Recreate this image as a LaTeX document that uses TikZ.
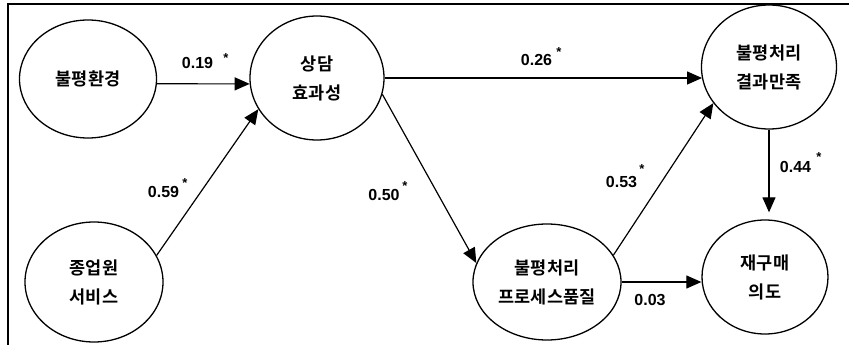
\documentclass[tikz,border=0pt]{standalone}
\usepackage{fontspec}
\usetikzlibrary{arrows.meta,shapes.geometric}
\newfontfamily\krfont{Noto Sans CJK KR}[BoldFont={Noto Sans CJK KR Bold}]
\newfontfamily\numfont{Liberation Sans}
\tikzset{
  ell/.style={draw, ellipse, line width=1.3pt, inner sep=0pt, align=center,
    font=\krfont\bfseries\fontsize{17.5}{29}\selectfont},
  arr/.style={-{Triangle[length=15pt,width=13pt]}, line width=1.2pt},
  lab/.style={inner sep=0pt, font=\numfont\bfseries\fontsize{16}{18}\selectfont},
  starlab/.style={inner sep=0pt, anchor=north, font=\numfont\bfseries\fontsize{13}{14}\selectfont},
}
\begin{document}
\begin{tikzpicture}[x=1pt,y=-1pt]
\useasboundingbox (0,0) rectangle (849,345);
\fill[white] (0,0) rectangle (849,345);
\draw[line width=1.2pt] (8,345) -- (8,4) -- (849,4);
% nodes
\node[ell, minimum width=137pt, minimum height=118pt] (hwan) at (88,79) {불평환경};
\node[ell, minimum width=134pt, minimum height=124pt] (sang) at (317,78) {상담\\효과성};
\node[ell, minimum width=138pt, minimum height=120pt] (jong) at (94,282) {종업원\\서비스};
\node[ell, minimum width=135pt, minimum height=124pt] (gyeol) at (769,67) {불평처리\\결과만족};
\node[ell, minimum width=126pt, minimum height=114pt] (jae) at (765,277) {재구매\\의도};
\node[ell, minimum width=148pt, minimum height=116pt] (proc) at (547,282) {불평처리\\프로세스품질};
% connectors
\draw[arr] (hwan.-4) -- (sang.185);
\draw[arr] (jong.23) -- (sang.208);
\draw[arr] (sang.east) -- (sang.east -| gyeol.190);
\draw[arr] (sang.-14) -- (proc.165);
\draw[arr] (proc.22) -- (gyeol.213);
\draw[arr] (proc.east) -- (proc.east -| jae.west);
\draw[arr, shorten >=7pt] (gyeol.south) -- (gyeol.south |- jae.north);
% labels
\node[lab] (l1) at (197.5,63) {0.19};
\node[starlab] (s1) at (226,53) {*};
\node[lab] (l2) at (163.5,192) {0.59};
\node[starlab] (s2) at (185,178) {*};
\node[lab] (l3) at (384,195) {0.50};
\node[starlab] (s3) at (405,181) {*};
\node[lab] (l4) at (536.5,60) {0.26};
\node[starlab] (s4) at (559,47) {*};
\node[lab] (l5) at (621.5,182) {0.53};
\node[starlab] (s5) at (642,164) {*};
\node[lab] (l6) at (795.5,167) {0.44};
\node[starlab] (s6) at (819,152) {*};
\node[lab] (l7) at (650,300) {0.03};
\end{tikzpicture}
\end{document}
